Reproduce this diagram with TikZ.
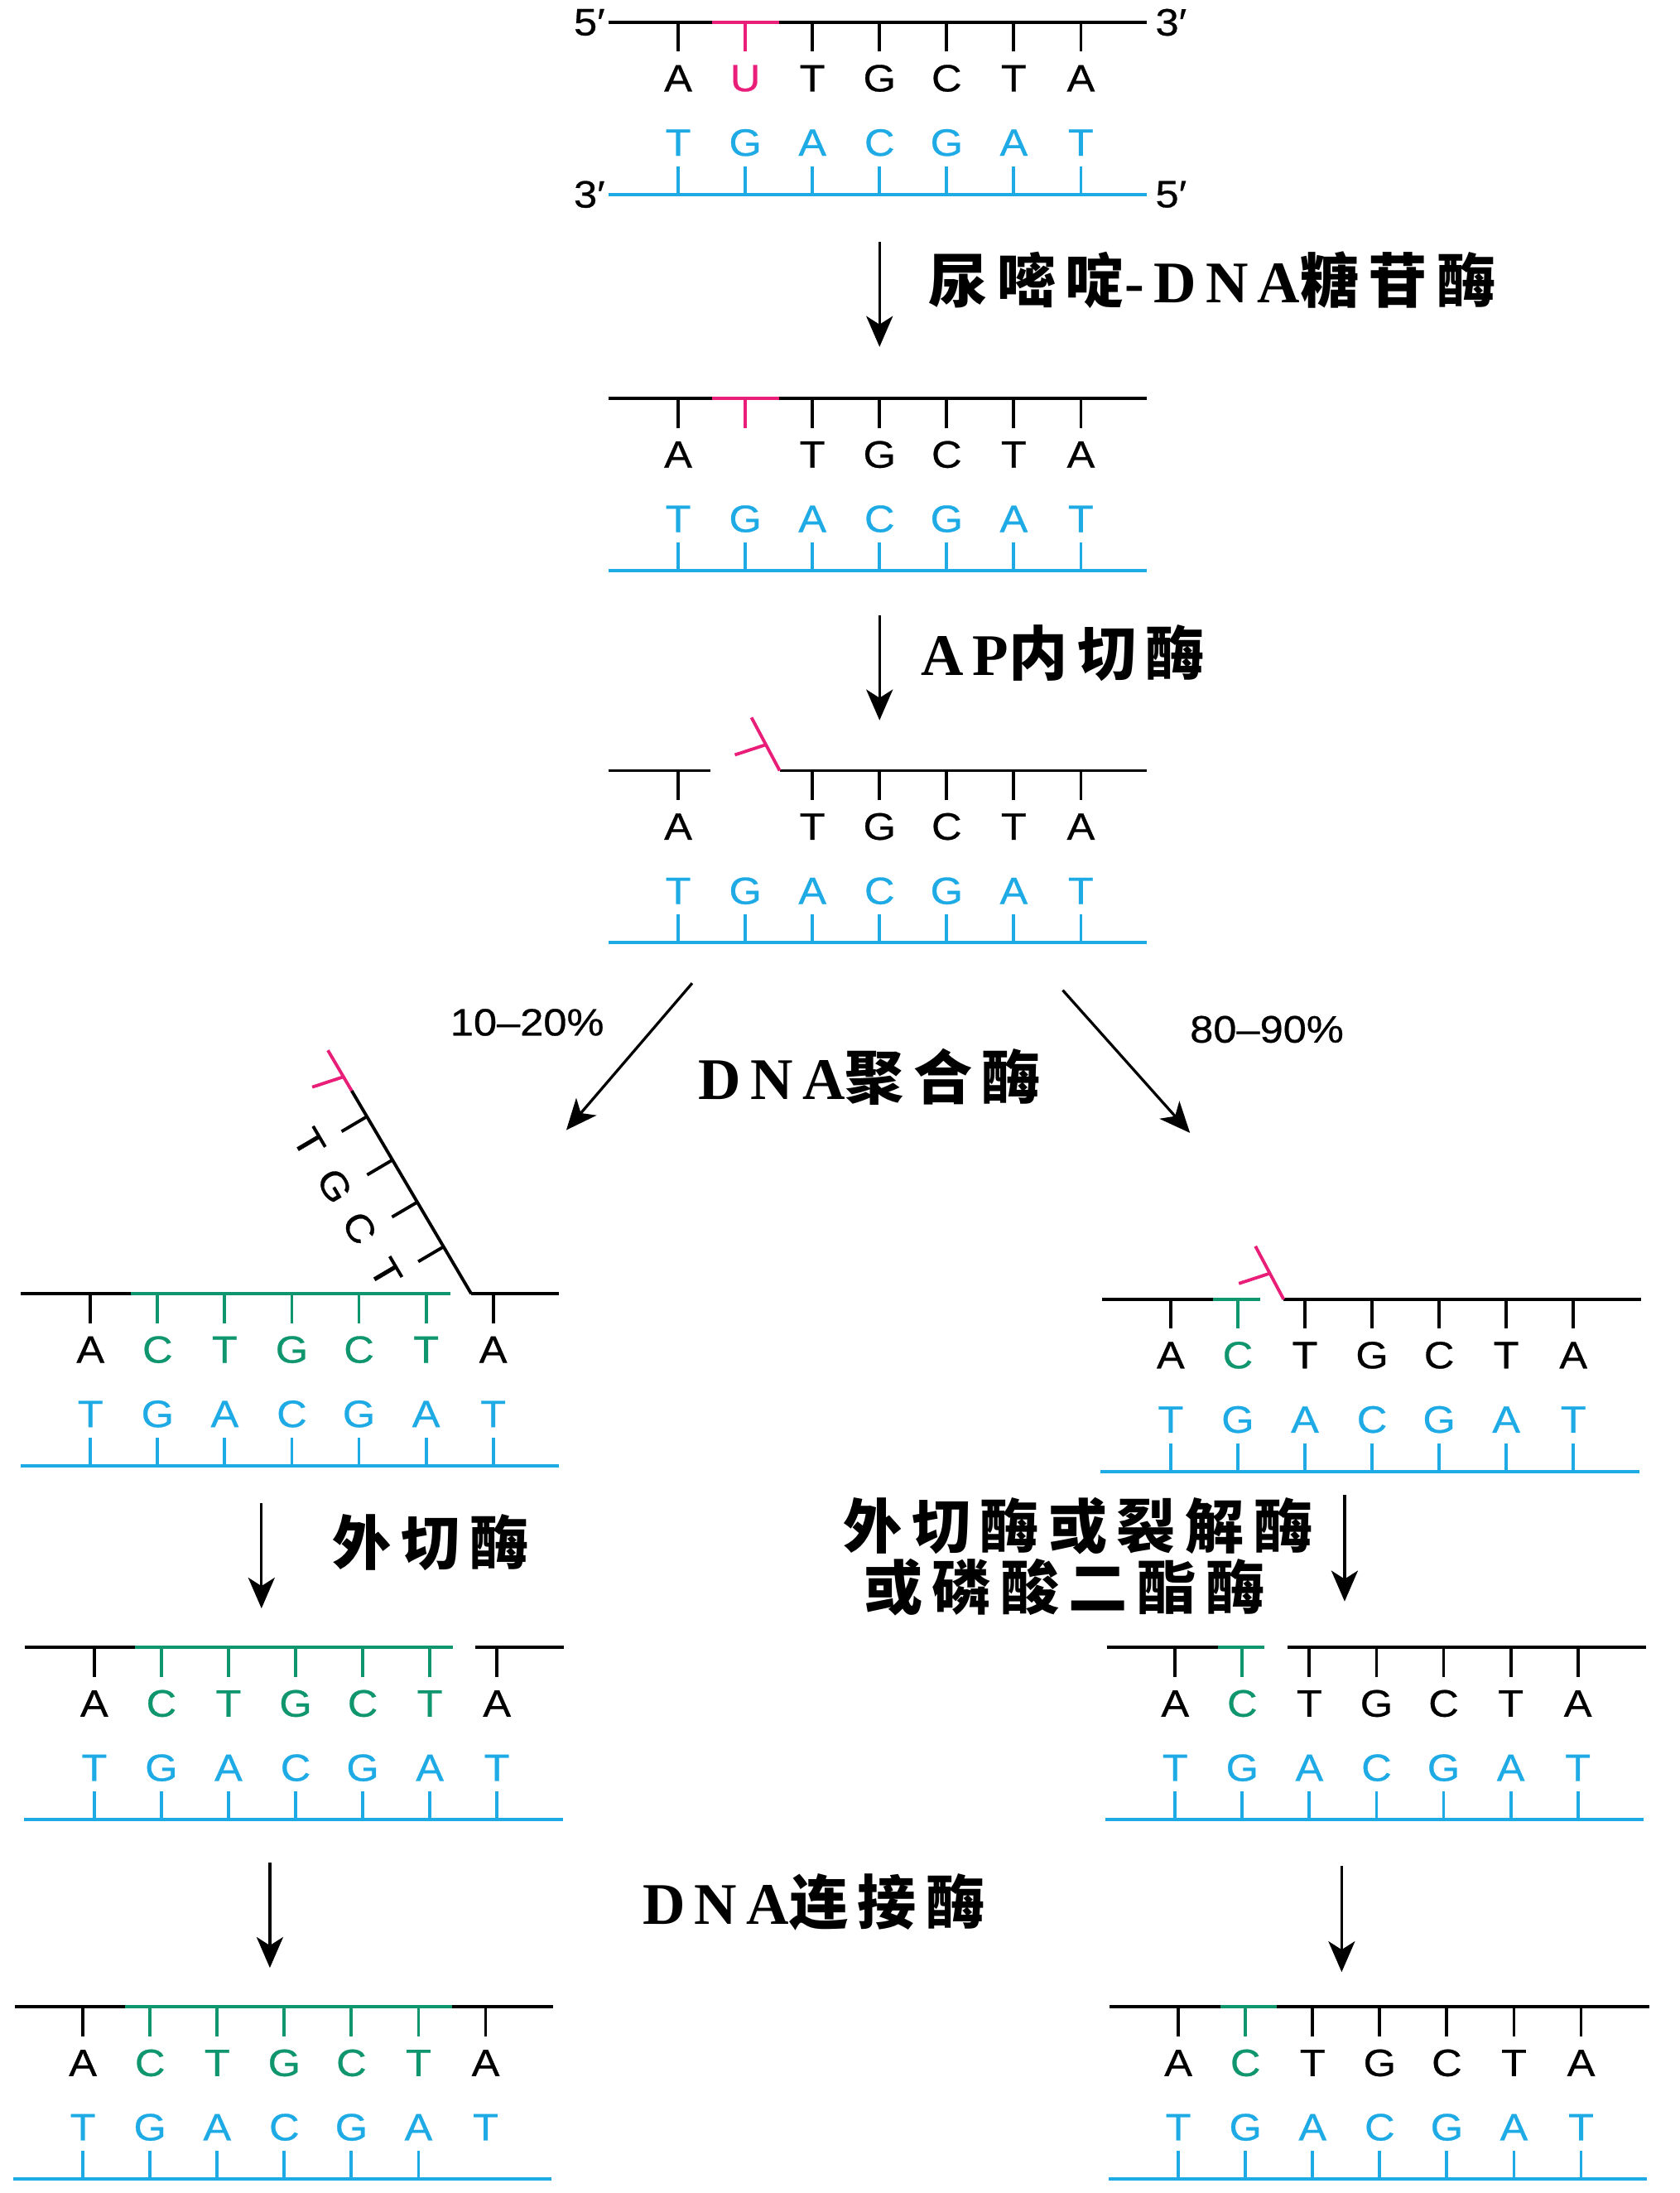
\documentclass[tikz,border=0pt]{standalone}
\usepackage{fontspec}
\setmainfont{Liberation Sans}
\newfontfamily\nucfont{Liberation Sans}[FakeStretch=1.1,FakeBold=0.6]
\newfontfamily\labelcjk{Noto Sans CJK SC}[LetterSpace=16]
\newfontfamily\labelserif{Liberation Serif}[LetterSpace=16]
\usetikzlibrary{arrows.meta}
\definecolor{dnapink}{RGB}{232,30,120}
\definecolor{dnacyan}{RGB}{30,170,228}
\definecolor{dnagreen}{RGB}{16,150,110}

\begin{document}
\begin{tikzpicture}[x=0.02cm,y=0.02cm,
  strand/.style={line width=1.3pt},
  base/.style={font=\nucfont\fontsize{15.5}{16}\selectfont},
  enzyme/.style={font=\fontsize{24}{28}\selectfont\bfseries},
  flow/.style={line width=1.1pt,-{Stealth[length=0.44cm,width=0.38cm,inset=0.12cm]}}]
\tikzstyle{every node}+=[inner sep=0pt]
\useasboundingbox (0,0) rectangle (1201,-1568);
% lower strands, all the same
\foreach \tx/\ty in {485/16,485/285,485/551,64.7/925,67.4/1178,837.2/929,840.4/1178,842.7/1435}{
  \draw[strand,dnacyan] ({\tx-50},{-\ty-123}) -- ({\tx+335},{-\ty-123});
  \foreach \b [count=\i from 0] in {T,G,A,C,G,A,T}{
    \draw[strand,dnacyan] ({\tx+48*\i},{-\ty-103}) -- ++(0,-20);
    \node[base,text=dnacyan] (lo\ty-\i) at ({\tx+48*\i},{-\ty-86}) {\b};
  }
}
\draw[strand,dnacyan] (9.3,-1558) -- (394.3,-1558);
\foreach \b [count=\i from 0] in {T,G,A,C,G,A,T}{
  \ifnum\i<6 \draw[strand,dnacyan] ({59.3+48*\i},-1538) -- ++(0,-20); \fi
  \node[base,text=dnacyan] (lo1435-\i) at ({59.3+48*\i},-1521) {\b};
}
% start
\draw[strand] (435,-16) -- (509,-16) (557,-16) -- (820,-16);
\draw[strand,dnapink] (509,-16) -- (557,-16);
\foreach \i/\b/\c in {0/A/black,1/U/dnapink,2/T/black,3/G/black,4/C/black,5/T/black,6/A/black}{
  \draw[strand,color=\c] ({485+48*\i},-16) -- ++(0,-21);
  \node[base,text=\c] (p1-\i) at ({485+48*\i},-56) {\b};
}
\node[base,anchor=east] (p1-tl) at (433,-16) {5′};
\node[base,anchor=west] (p1-tr) at (826,-16) {3′};
\node[base,anchor=east] (p1-bl) at (433,-139) {3′};
\node[base,anchor=west] (p1-br) at (826,-139) {5′};
% uracil removed
\draw[strand] (435,-285) -- (509,-285) (557,-285) -- (820,-285);
\draw[strand,dnapink] (509,-285) -- (557,-285) (533,-285) -- ++(0,-21);
\foreach \i/\b in {0/A,2/T,3/G,4/C,5/T,6/A}{
  \draw[strand] ({485+48*\i},-285) -- ++(0,-21);
  \node[base] (p2-\i) at ({485+48*\i},-325) {\b};
}
% nicked by AP endonuclease
\draw[strand] (435,-551) -- (508,-551) (557.6,-551) -- (820,-551);
\begin{scope}[shift={(557.6,-551)},rotate=118]
\draw[strand,dnapink] (0,0) -- (43,0) (21,0) -- (25,23);
\end{scope}
\foreach \i/\b in {0/A,2/T,3/G,4/C,5/T,6/A}{
  \draw[strand] ({485+48*\i},-551) -- ++(0,-21);
  \node[base] (p3-\i) at ({485+48*\i},-591) {\b};
}
% left: strand displacement
\draw[strand] (15,-925) -- (93.8,-925) (337,-925) -- (399.7,-925);
\draw[strand,dnagreen] (93.8,-925) -- (322,-925);
\foreach \i/\b/\c in {0/A/black,1/C/dnagreen,2/T/dnagreen,3/G/dnagreen,4/C/dnagreen,5/T/dnagreen,6/A/black}{
  \draw[strand,color=\c] ({64.7+48*\i},-925) -- ++(0,-21);
  \node[base,text=\c] (l1-\i) at ({64.7+48*\i},-965) {\b};
}
\begin{scope}[shift={(337,-925)},rotate=120.5]
\draw[strand] (0,0) -- (168.5,0);
\draw[strand,dnapink] (168.5,0) -- (202,0) (180,0) -- (185,23);
\foreach \u/\b in {39/T,76/C,111/G,147/T}{
  \draw[strand] (\u,0) -- ++(0,21);
  \node[base,rotate=-59.5] (fl-\u) at ({\u+5},45) {\b};
}
\end{scope}
\draw[strand] (17.7,-1178) -- (96.5,-1178) (340,-1178) -- (403,-1178);
\draw[strand,dnagreen] (96.5,-1178) -- (324,-1178);
\foreach \i/\b/\c in {0/A/black,1/C/dnagreen,2/T/dnagreen,3/G/dnagreen,4/C/dnagreen,5/T/dnagreen,6/A/black}{
  \draw[strand,color=\c] ({67.4+48*\i},-1178) -- ++(0,-21);
  \node[base,text=\c] (l2-\i) at ({67.4+48*\i},-1218) {\b};
}
\draw[strand] (10.9,-1435) -- (89.7,-1435) (323.6,-1435) -- (395.6,-1435);
\draw[strand,dnagreen] (89.7,-1435) -- (323.6,-1435);
\foreach \i/\b/\c in {0/A/black,1/C/dnagreen,2/T/dnagreen,3/G/dnagreen,4/C/dnagreen,5/T/dnagreen,6/A/black}{
  \draw[strand,color=\c] ({59.3+48*\i},-1435) -- ++(0,-21);
  \node[base,text=\c] (l3-\i) at ({59.3+48*\i},-1475) {\b};
}
% right: one nucleotide
\draw[strand] (788.3,-929) -- (867.6,-929) (918,-929) -- (1173.8,-929);
\draw[strand,dnagreen] (867.6,-929) -- (901.2,-929);
\begin{scope}[shift={(918,-929)},rotate=118]
\draw[strand,dnapink] (0,0) -- (43,0) (21,0) -- (25,23);
\end{scope}
\foreach \i/\b/\c in {0/A/black,1/C/dnagreen,2/T/black,3/G/black,4/C/black,5/T/black,6/A/black}{
  \draw[strand,color=\c] ({837.2+48*\i},-929) -- ++(0,-21);
  \node[base,text=\c] (r1-\i) at ({837.2+48*\i},-969) {\b};
}
\draw[strand] (791.4,-1178) -- (871.3,-1178) (920.8,-1178) -- (1176.9,-1178);
\draw[strand,dnagreen] (871.3,-1178) -- (904.2,-1178);
\foreach \i/\b/\c in {0/A/black,1/C/dnagreen,2/T/black,3/G/black,4/C/black,5/T/black,6/A/black}{
  \draw[strand,color=\c] ({840.4+48*\i},-1178) -- ++(0,-21);
  \node[base,text=\c] (r2-\i) at ({840.4+48*\i},-1218) {\b};
}
\draw[strand] (793.7,-1435) -- (872.6,-1435) (913.3,-1435) -- (1179.3,-1435);
\draw[strand,dnagreen] (872.6,-1435) -- (913.3,-1435);
\foreach \i/\b/\c in {0/A/black,1/C/dnagreen,2/T/black,3/G/black,4/C/black,5/T/black,6/A/black}{
  \draw[strand,color=\c] ({842.7+48*\i},-1435) -- ++(0,-21);
  \node[base,text=\c] (r3-\i) at ({842.7+48*\i},-1475) {\b};
}
% enzymes
\node[enzyme] (ung) at (867,-200) {\labelcjk 尿嘧啶\labelserif -DNA\labelcjk 糖苷酶};
\node[enzyme] (ape) at (760,-467) {\labelserif AP\labelcjk 内切酶};
\node[enzyme] (pol) at (622,-770) {\labelserif DNA\labelcjk 聚合酶};
\node[base] (few) at (377,-731) {10–20\%};
\node[base] (most) at (906,-736) {80–90\%};
\node[enzyme] (exo) at (308,-1103) {\labelcjk 外切酶};
\node[enzyme] (exo2) at (771,-1091) {\labelcjk 外切酶或裂解酶};
\node[enzyme] (pde) at (761,-1135) {\labelcjk 或磷酸二酯酶};
\node[enzyme] (lig) at (582,-1360) {\labelserif DNA\labelcjk 连接酶};
% arrows
\coordinate (s1) at (629,-173);   \coordinate (e1) at (629,-248);
\coordinate (s2) at (629,-440);   \coordinate (e2) at (629,-515);
\coordinate (s3) at (495,-703);   \coordinate (e3) at (405,-808);
\coordinate (s4) at (760,-708);   \coordinate (e4) at (851,-810);
\coordinate (s5) at (187,-1075);  \coordinate (e5) at (187,-1150);
\coordinate (s6) at (961.6,-1069); \coordinate (e6) at (961.6,-1145);
\coordinate (s7) at (193,-1332);  \coordinate (e7) at (193,-1407);
\coordinate (s8) at (959.5,-1334); \coordinate (e8) at (959.5,-1410);
\foreach \k in {1,...,8}
  \draw[flow] (s\k) -- (e\k);
\end{tikzpicture}
\end{document}
